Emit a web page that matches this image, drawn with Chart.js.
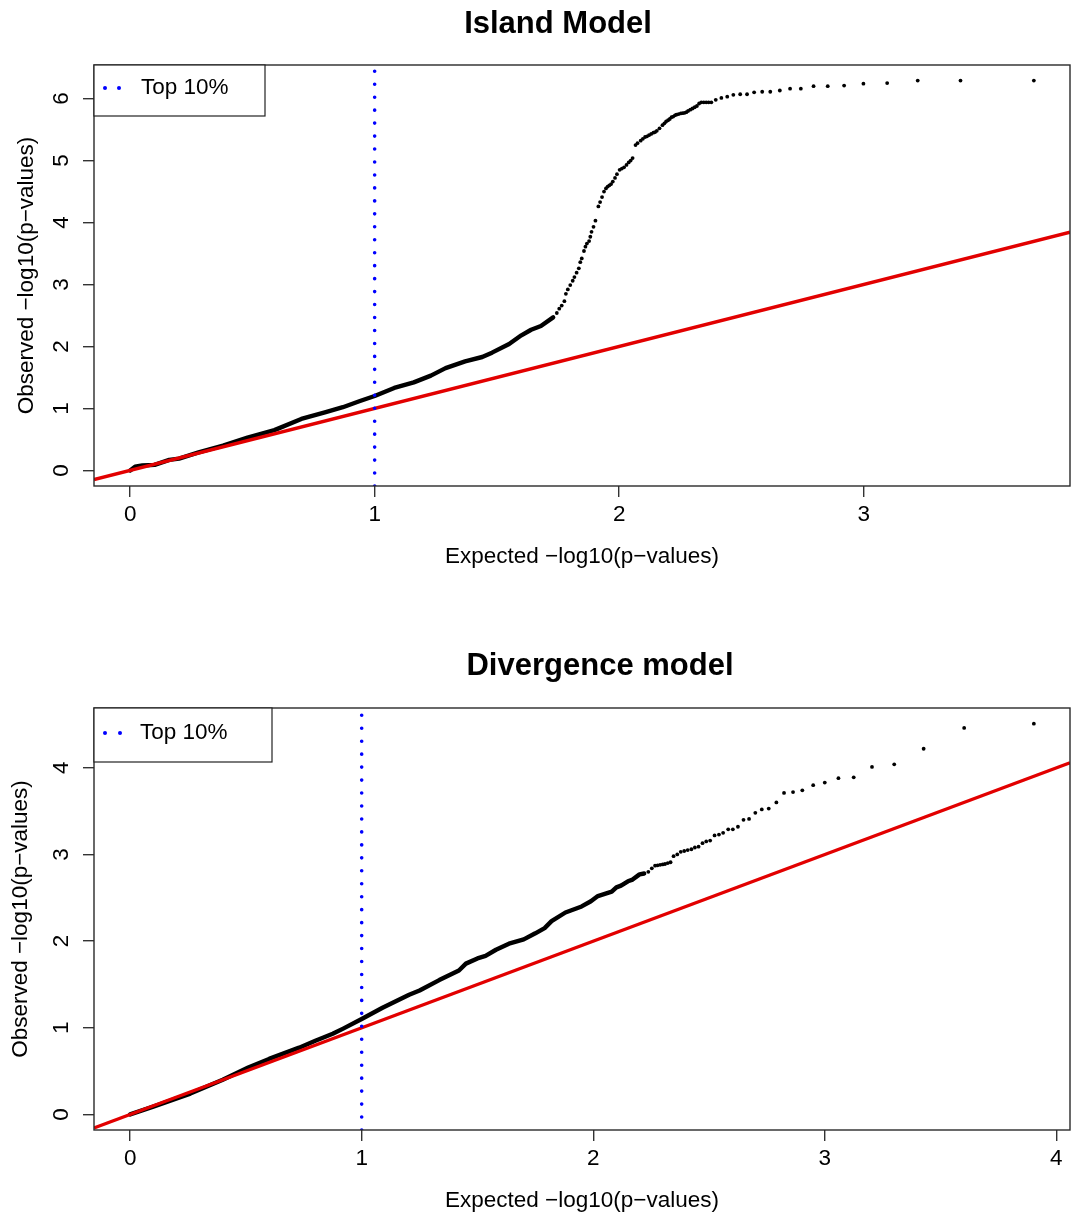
<!DOCTYPE html>
<html><head><meta charset="utf-8">
<script src="https://cdn.jsdelivr.net/npm/chart.js@4.4.0/dist/chart.umd.min.js"></script>
<style>
html,body{margin:0;padding:0;background:#fff;}
#wrap{position:relative;width:1074px;height:1218px;background:#fff;}
canvas{position:absolute;left:0;}
</style></head><body>
<div id="wrap">
<canvas id="c1" width="1074" height="609" style="top:0"></canvas>
<canvas id="c2" width="1074" height="609" style="top:609px"></canvas>
</div>
<script>
// ---------------- data ----------------
const titles = ["Island Model", "Divergence model"];
const xAxisLabel = "Expected \u2212log10(p\u2212values)";
const yAxisLabel = "Observed \u2212log10(p\u2212values)";
const legendLabel = "Top 10%";
const thresholdX = 1;

const islandXTicks = [0, 1, 2, 3];
const islandYTicks = [0, 1, 2, 3, 4, 5, 6];
// dense part of the QQ curve (points overlap into a thick line)
const islandDense = [[0,0],[0.02,0.06],[0.05,0.08],[0.10,0.09],[0.13,0.13],[0.16,0.17],[0.20,0.19],[0.28,0.29],[0.38,0.40],[0.48,0.53],[0.59,0.65],[0.70,0.83],[0.80,0.94],[0.87,1.02],[0.94,1.12],[1.00,1.20],[1.08,1.33],[1.16,1.42],[1.23,1.53],[1.29,1.65],[1.37,1.76],[1.44,1.83],[1.48,1.90],[1.55,2.04],[1.60,2.18],[1.64,2.27],[1.68,2.33],[1.73,2.47]];
// sparse tail: individual points
const islandTail = [[1.745,2.54],[1.755,2.61],[1.765,2.66],[1.776,2.73],[1.782,2.85],[1.790,2.92],[1.800,2.99],[1.810,3.06],[1.817,3.12],[1.826,3.19],[1.835,3.26],[1.841,3.36],[1.847,3.42],[1.856,3.54],[1.862,3.61],[1.868,3.66],[1.877,3.70],[1.882,3.77],[1.887,3.85],[1.895,3.93],[1.903,4.03],[1.915,4.26],[1.922,4.33],[1.930,4.41],[1.938,4.50],[1.946,4.55],[1.953,4.58],[1.960,4.60],[1.967,4.62],[1.974,4.66],[1.983,4.72],[1.991,4.78],[2.002,4.85],[2.011,4.87],[2.020,4.89],[2.030,4.93],[2.039,4.97],[2.047,5.00],[2.055,5.04],[2.067,5.25],[2.075,5.28],[2.088,5.32],[2.097,5.35],[2.106,5.38],[2.114,5.39],[2.122,5.41],[2.131,5.43],[2.140,5.45],[2.147,5.46],[2.154,5.48],[2.165,5.52],[2.177,5.57],[2.185,5.60],[2.192,5.63],[2.200,5.65],[2.207,5.67],[2.214,5.70],[2.221,5.71],[2.228,5.73],[2.234,5.74],[2.243,5.75],[2.252,5.76],[2.260,5.765],[2.268,5.77],[2.275,5.78],[2.282,5.80],[2.291,5.82],[2.300,5.84],[2.309,5.86],[2.318,5.88],[2.327,5.92],[2.336,5.94],[2.346,5.94],[2.356,5.94],[2.366,5.94],[2.377,5.94],[2.395,5.98],[2.418,6.01],[2.442,6.03],[2.467,6.06],[2.495,6.07],[2.523,6.07],[2.552,6.10],[2.585,6.11],[2.618,6.11],[2.657,6.13],[2.699,6.16],[2.743,6.16],[2.795,6.20],[2.853,6.20],[2.920,6.21],[2.999,6.24],[3.096,6.25],[3.221,6.29],[3.396,6.29],[3.696,6.29]];

const divXTicks = [0, 1, 2, 3, 4];
const divYTicks = [0, 1, 2, 3, 4];
const divDense = [[0,0],[0.10,0.09],[0.26,0.24],[0.40,0.40],[0.51,0.54],[0.60,0.64],[0.73,0.77],[0.80,0.85],[0.875,0.93],[0.92,0.99],[1.00,1.10],[1.09,1.23],[1.205,1.38],[1.25,1.43],[1.335,1.55],[1.42,1.66],[1.45,1.74],[1.50,1.80],[1.535,1.83],[1.58,1.90],[1.636,1.97],[1.70,2.02],[1.75,2.09],[1.79,2.15],[1.82,2.23],[1.88,2.33],[1.95,2.40],[1.99,2.46],[2.02,2.52],[2.08,2.57],[2.10,2.62],[2.12,2.64],[2.15,2.69],[2.17,2.71],[2.20,2.77],[2.22,2.78]];
const divTail = [[2.238,2.80],[2.253,2.84],[2.267,2.87],[2.278,2.875],[2.289,2.88],[2.300,2.885],[2.310,2.89],[2.322,2.90],[2.334,2.91],[2.347,2.98],[2.363,3.00],[2.378,3.03],[2.393,3.04],[2.408,3.05],[2.424,3.06],[2.439,3.08],[2.455,3.09],[2.472,3.13],[2.488,3.15],[2.505,3.16],[2.524,3.22],[2.543,3.23],[2.561,3.25],[2.583,3.29],[2.603,3.29],[2.625,3.32],[2.649,3.40],[2.673,3.41],[2.700,3.48],[2.728,3.52],[2.758,3.53],[2.791,3.60],[2.824,3.71],[2.863,3.72],[2.903,3.74],[2.950,3.80],[3.000,3.83],[3.059,3.88],[3.125,3.89],[3.204,4.01],[3.300,4.04],[3.427,4.22],[3.602,4.46],[3.903,4.51]];

// ---------------- layout / style ----------------
const FONT = '"Liberation Sans", Arial, Helvetica, sans-serif';
const LAB_SIZE = 22.5;
const layouts = [
  {chartTop: 65, chartBottom: 486, titleX: 558, titleBase: 33, xTitlePad: 39, xTickPad: 4.5, yTitlePad: 13.1,
   legend: {w: 171, h: 51, dotY: 23, dot1: 11, dot2: 25, textX: 47}},
  {chartTop: 99, chartBottom: 521, titleX: 600, titleBase: 66, xTitlePad: 3.5, xTickPad: 4.5, yTitlePad: 7.4,
   legend: {w: 178, h: 54, dotY: 25, dot1: 11, dot2: 26, textX: 46}}
];

function rRange(vals) {
  const mn = Math.min(...vals), mx = Math.max(...vals);
  const d = (mx - mn) * 0.04;
  return [mn - d, mx + d];
}

const boxPlugin = {
  id: 'rbox',
  afterDatasetsDraw(chart, args, opts) {
    const {ctx, chartArea: a} = chart;
    ctx.save();
    ctx.strokeStyle = '#2a2a2a';
    ctx.lineWidth = 1.4;
    ctx.strokeRect(a.left, a.top, a.right - a.left, a.bottom - a.top);
    // legend
    const L = opts.legend;
    ctx.lineWidth = 1.2;
    ctx.strokeStyle = '#222';
    ctx.fillStyle = '#fff';
    ctx.fillRect(a.left, a.top, L.w, L.h);
    ctx.strokeRect(a.left, a.top, L.w, L.h);
    ctx.fillStyle = '#0000ff';
    [L.dot1, L.dot2].forEach(dx => {
      ctx.beginPath(); ctx.arc(a.left + dx, a.top + L.dotY, 2.0, 0, Math.PI * 2); ctx.fill();
    });
    ctx.fillStyle = '#000';
    ctx.font = LAB_SIZE + 'px ' + FONT;
    ctx.textBaseline = 'middle';
    ctx.textAlign = 'left';
    ctx.fillText(chart.data.datasets[0].label, a.left + L.textX, a.top + L.dotY);
    // main title
    ctx.font = 'bold 31px ' + FONT;
    ctx.textBaseline = 'alphabetic';
    ctx.textAlign = 'center';
    ctx.fillText(opts.title, opts.titleX, opts.titleBase);
    ctx.restore();
  }
};

function makeChart(id, title, dense, tail, xTicks, yTicks, lay) {
  const allX = dense.map(p => p[0]).concat(tail.map(p => p[0]));
  const allY = dense.map(p => p[1]).concat(tail.map(p => p[1]));
  const [xMin, xMax] = rRange(allX);
  const [yMin, yMax] = rRange(allY);
  const canvasH = 609;
  const gridOpts = {display: true, drawOnChartArea: false, drawTicks: true, tickLength: 11, color: '#333', lineWidth: 1.4};
  return new Chart(document.getElementById(id), {
    type: 'scatter',
    data: {
      datasets: [
        {label: legendLabel, type: 'line', data: [{x: thresholdX, y: yMin}, {x: thresholdX, y: yMax}],
         borderColor: '#0000ff', borderWidth: 3.6, borderDash: [0.01, 12.95], borderCapStyle: 'round',
         pointRadius: 0, fill: false},
        {label: 'y = x', type: 'line', data: [{x: xMin, y: xMin}, {x: xMax, y: xMax}],
         borderColor: '#e20000', borderWidth: 3.3, pointRadius: 0, fill: false},
        {label: 'tail', data: tail.map(p => ({x: p[0], y: p[1]})),
         backgroundColor: '#000', borderWidth: 0, pointRadius: 1.9},
        {label: 'dense', type: 'line', data: dense.map(p => ({x: p[0], y: p[1]})),
         borderColor: '#000', borderWidth: 4.4, borderJoinStyle: 'round', borderCapStyle: 'round',
         pointRadius: 0, fill: false, tension: 0}
      ]
    },
    options: {
      responsive: false, animation: false, devicePixelRatio: 1,
      layout: {padding: {top: lay.chartTop, left: 0, right: 1, bottom: 0}},
      plugins: {legend: {display: false}, title: {display: false}, tooltip: {enabled: false},
        rbox: {legend: lay.legend, title: title, titleX: lay.titleX, titleBase: lay.titleBase}},
      scales: {
        x: {type: 'linear', min: xMin, max: xMax,
          afterBuildTicks: s => { s.ticks = xTicks.map(v => ({value: v})); },
          afterFit: s => { s.height = canvasH - lay.chartBottom; },
          grid: gridOpts, border: {display: false},
          ticks: {color: '#000', font: {family: FONT, size: LAB_SIZE}, padding: lay.xTickPad,
            maxRotation: 0, minRotation: 0, autoSkip: false, callback: v => String(v)},
          title: {display: true, text: xAxisLabel, color: '#000', font: {family: FONT, size: LAB_SIZE},
            padding: {top: 0, bottom: lay.xTitlePad}}},
        y: {type: 'linear', min: yMin, max: yMax,
          afterBuildTicks: s => { s.ticks = yTicks.map(v => ({value: v})); },
          afterFit: s => { s.width = 94; },
          grid: gridOpts, border: {display: false},
          ticks: {color: '#000', font: {family: FONT, size: LAB_SIZE}, padding: 14.7,
            crossAlign: 'center', minRotation: 90, maxRotation: 90, autoSkip: false, callback: v => String(v)},
          title: {display: true, text: yAxisLabel, color: '#000', font: {family: FONT, size: LAB_SIZE},
            padding: {top: lay.yTitlePad, bottom: 0}}}
      }
    },
    plugins: [boxPlugin]
  });
}

makeChart('c1', titles[0], islandDense, islandTail, islandXTicks, islandYTicks, layouts[0]);
makeChart('c2', titles[1], divDense, divTail, divXTicks, divYTicks, layouts[1]);
</script>
</body></html>
